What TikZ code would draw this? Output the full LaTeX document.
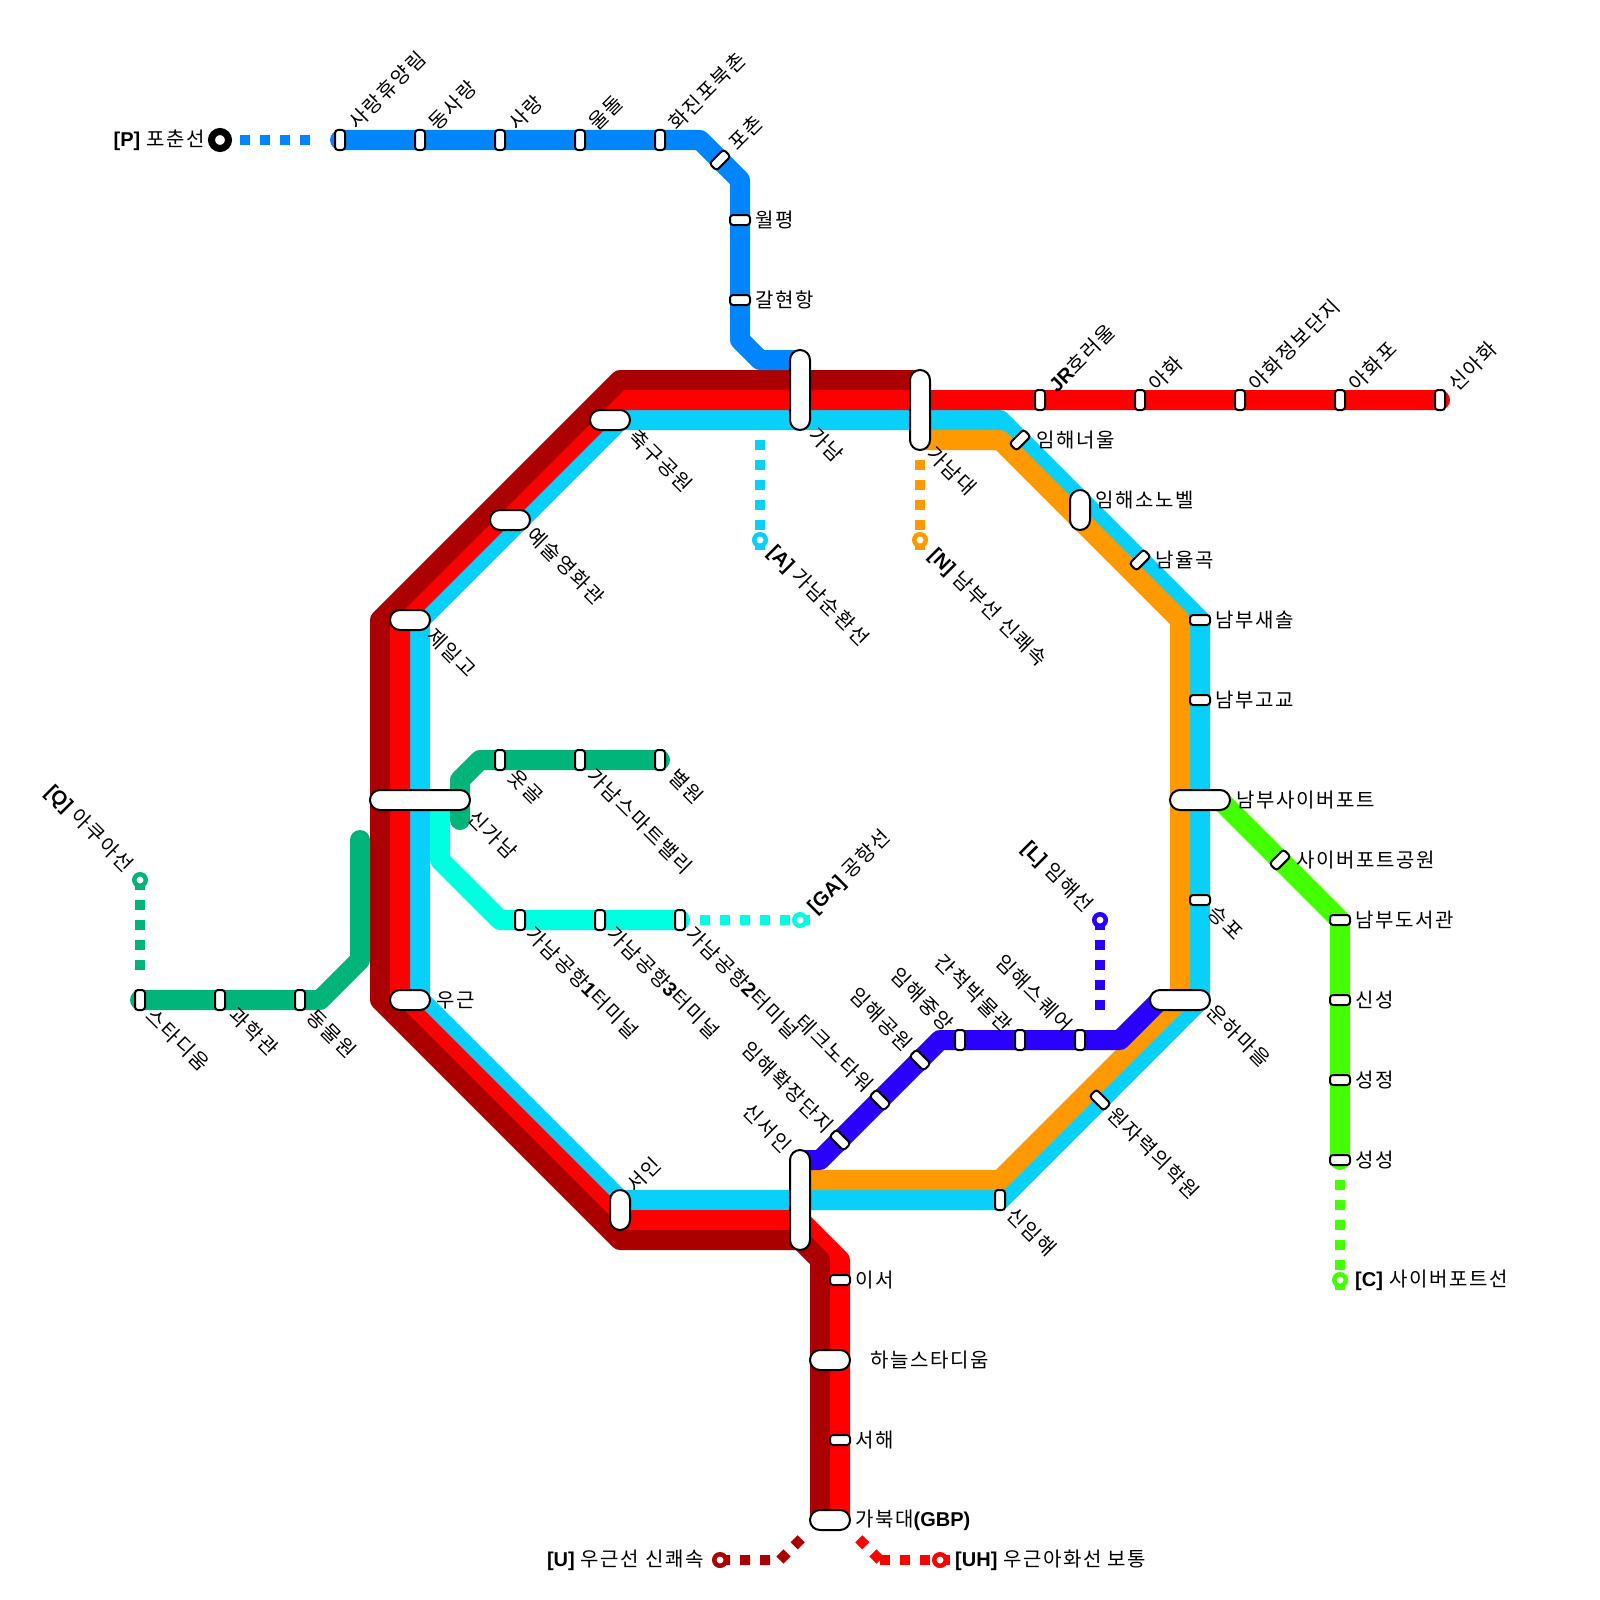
\documentclass[tikz,border=0pt]{standalone}
\usepackage{fontspec}
\setmainfont{Noto Sans CJK KR}[LetterSpace=8]
\newfontfamily\ltnfont{Liberation Sans}
\newcommand{\ltn}[1]{{\ltnfont\bfseries #1}}
\usepackage{tikz}
\usetikzlibrary{backgrounds}
\definecolor{lineU}{HTML}{AA0000}
\definecolor{lineUH}{HTML}{FF0000}
\definecolor{lineA}{HTML}{09CFFB}
\definecolor{lineN}{HTML}{FF9900}
\definecolor{lineP}{HTML}{0085FF}
\definecolor{lineL}{HTML}{2A00FF}
\definecolor{lineGA}{HTML}{00FFE1}
\definecolor{lineQ}{HTML}{00B47A}
\definecolor{lineC}{HTML}{44FF00}
\tikzset{
    track/.style={line width=20pt, line cap=round, line join=round},
    spur/.style={line width=10pt, dash pattern=on 10pt off 10pt},
    stn/.style={rectangle, draw=black, fill=white, line width=2pt, inner sep=0pt, outer sep=0pt},
    stnh/.style={stn, rounded corners=3pt, minimum width=20pt, minimum height=10pt},
    stnv/.style={stn, rounded corners=3pt, minimum width=10pt, minimum height=20pt},
    stnup/.style={stnh, rotate=45},
    stndn/.style={stnh, rotate=-45},
    pill/.style={stn, rounded corners=10pt, minimum height=20pt},
    pillv/.style={stn, rounded corners=10pt, minimum width=20pt},
    endring/.style={circle, fill=white, line width=4.5pt, minimum size=11.5pt, inner sep=0pt, outer sep=0pt},
    bigring/.style={circle, draw=black, fill=white, line width=7pt, minimum size=17pt, inner sep=0pt, outer sep=0pt},
    lbl/.style={inner sep=0pt, font=\fontsize{20}{24}\selectfont},
    lblr/.style={lbl, anchor=west},
    lbll/.style={lbl, anchor=east},
    lblu/.style={lbl, anchor=west, rotate=45},
    lbld/.style={lbl, anchor=west, rotate=-45},
    lbla/.style={lbl, anchor=east, rotate=-45}
}
\begin{document}
\begin{tikzpicture}[x=1pt, y=-1pt]
  \useasboundingbox (0,0) rectangle (1600,1600);
% line P
  \node[stnv] (saranghy) at (340,140) {};
  \node[stnv] (dongsa) at (420,140) {};
  \node[stnv] (sarang) at (500,140) {};
  \node[stnv] (uldol) at (580,140) {};
  \node[stnv] (hwajin) at (660,140) {};
  \node[stnup] (pochon) at (720,160) {};
  \node[stnh] (wolpyeong) at (740,220) {};
  \node[stnh] (galhyeon) at (740,300) {};
% main loop
  \node[pillv, minimum height=80pt] (ganam) at (800,390) {};
  \node[pillv, minimum height=80pt] (ganamdae) at (920,410) {};
  \node[pill, minimum width=40pt] (chukgu) at (610,420) {};
  \node[pill, minimum width=40pt] (yesul) at (510,520) {};
  \node[pill, minimum width=40pt] (jeil) at (410,620) {};
  \node[pill, minimum width=100pt] (singanam) at (420,800) {};
  \node[pill, minimum width=40pt] (ugeun) at (410,1000) {};
  \node[pillv, minimum height=40pt] (seoin) at (620,1210) {};
  \node[pillv, minimum height=100pt] (sinseoin) at (800,1200) {};
  \node[stnv] (sinimhae) at (1000,1200) {};
  \node[stndn] (wonja) at (1100,1100) {};
  \node[pill, minimum width=60pt] (unha) at (1180,1000) {};
  \node[stnh] (seungpo) at (1200,900) {};
  \node[pill, minimum width=60pt] (saiber) at (1200,800) {};
  \node[stnh] (gogyo) at (1200,700) {};
  \node[stnh] (saesol) at (1200,620) {};
  \node[stnup] (namyul) at (1140,560) {};
  \node[pillv, minimum height=40pt] (sonobel) at (1080,510) {};
  \node[stnup] (neoul) at (1020,440) {};
% line UH east
  \node[stnv] (jr) at (1040,400) {};
  \node[stnv] (ahwa) at (1140,400) {};
  \node[stnv] (jeongbo) at (1240,400) {};
  \node[stnv] (ahwapo) at (1340,400) {};
  \node[stnv] (sinahwa) at (1440,400) {};
% line U south
  \node[stnh] (iseo) at (840,1280) {};
  \node[pill, minimum width=40pt] (haneul) at (830,1360) {};
  \node[stnh] (seohae) at (840,1440) {};
  \node[pill, minimum width=40pt] (gabuk) at (830,1520) {};
% line Q
  \node[stnv] (otgol) at (500,760) {};
  \node[stnv] (smart) at (580,760) {};
  \node[stnv] (byeol) at (660,760) {};
  \node[stnv] (stadium) at (140,1000) {};
  \node[stnv] (gwahak) at (220,1000) {};
  \node[stnv] (dongmul) at (300,1000) {};
% line GA
  \node[stnv] (term1) at (520,920) {};
  \node[stnv] (term3) at (600,920) {};
  \node[stnv] (term2) at (680,920) {};
% line L
  \node[stndn] (hwakjang) at (840,1140) {};
  \node[stndn] (tekno) at (880,1100) {};
  \node[stndn] (gongwon) at (920,1060) {};
  \node[stnv] (jungang) at (960,1040) {};
  \node[stnv] (ganchuk) at (1020,1040) {};
  \node[stnv] (square) at (1080,1040) {};
% line C
  \node[stnup] (cyberpark) at (1280,860) {};
  \node[stnh] (doseo) at (1340,920) {};
  \node[stnh] (sinseong) at (1340,1000) {};
  \node[stnh] (seongjeong) at (1340,1080) {};
  \node[stnh] (seongseong) at (1340,1160) {};
% line ends
  \node[bigring] (endP) at (220,140) {};
  \node[endring, draw=lineA] (endA) at (760,540) {};
  \node[endring, draw=lineN] (endN) at (920,540) {};
  \node[endring, draw=lineGA] (endGA) at (800,920) {};
  \node[endring, draw=lineL] (endL) at (1100,920) {};
  \node[endring, draw=lineQ] (endQ) at (140,880) {};
  \node[endring, draw=lineC] (endC) at (1340,1280) {};
  \node[endring, draw=lineU] (endU) at (720,1560) {};
  \node[endring, draw=lineUH] (endUH) at (940,1560) {};
% bends and free ends
  \coordinate (p1) at (700,140);
  \coordinate (p2) at (740,180);
  \coordinate (p3) at (740,340);
  \coordinate (p4) at (760,360);
  \coordinate (p5) at (800,360);
  \coordinate (a1) at (620,420);
  \coordinate (a2) at (1000,420);
  \coordinate (a3) at (1200,620);
  \coordinate (a4) at (1200,1000);
  \coordinate (a5) at (1000,1200);
  \coordinate (a6) at (620,1200);
  \coordinate (a7) at (420,1000);
  \coordinate (a8) at (420,620);
  \coordinate (uh1) at (620,400);
  \coordinate (uh2) at (400,620);
  \coordinate (uh3) at (400,1000);
  \coordinate (uh4) at (620,1220);
  \coordinate (uh5) at (800,1220);
  \coordinate (uh6) at (840,1260);
  \coordinate (uh7) at (840,1520);
  \coordinate (u0) at (920,380);
  \coordinate (u1) at (620,380);
  \coordinate (u2) at (380,620);
  \coordinate (u3) at (380,1000);
  \coordinate (u4) at (620,1240);
  \coordinate (u5) at (800,1240);
  \coordinate (u6) at (820,1260);
  \coordinate (u7) at (820,1520);
  \coordinate (n0) at (920,440);
  \coordinate (n1) at (1000,440);
  \coordinate (n2) at (1180,620);
  \coordinate (n3) at (1180,1000);
  \coordinate (n4) at (1000,1180);
  \coordinate (n5) at (800,1180);
  \coordinate (l0) at (800,1160);
  \coordinate (l1) at (820,1160);
  \coordinate (l2) at (940,1040);
  \coordinate (l3) at (1120,1040);
  \coordinate (l4) at (1160,1000);
  \coordinate (ga0) at (440,800);
  \coordinate (ga1) at (440,860);
  \coordinate (ga2) at (500,920);
  \coordinate (q1) at (320,1000);
  \coordinate (q2) at (360,960);
  \coordinate (q3) at (360,840);
  \coordinate (q4) at (460,820);
  \coordinate (q5) at (460,780);
  \coordinate (q6) at (480,760);
  \coordinate (c0) at (1220,800);
  \coordinate (c1) at (1340,920);
  \coordinate (spP) at (310,140);
  \coordinate (spA) at (760,440);
  \coordinate (spN) at (920,460);
  \coordinate (spGA) at (700,920);
  \coordinate (spL) at (1100,1010);
  \coordinate (spQ) at (140,970);
  \coordinate (spC) at (1340,1180);
  \coordinate (spU1) at (780,1560);
  \coordinate (spU2) at (808,1532);
  \coordinate (spH1) at (880,1560);
  \coordinate (spH2) at (858,1538);
% lines
  \begin{scope}[on background layer]
    \draw[track, lineA] (a1) -- (a2) -- (a3) -- (a4) -- (a5) -- (a6) -- (a7) -- (a8) -- cycle;
    \draw[track, lineN] (n0) -- (n1) -- (n2) -- (n3) -- (n4) -- (n5);
    \draw[track, lineUH] (sinahwa.center) -- (uh1) -- (uh2) -- (uh3) -- (uh4) -- (uh5) -- (uh6) -- (uh7);
    \draw[track, lineU] (u0) -- (u1) -- (u2) -- (u3) -- (u4) -- (u5) -- (u6) -- (u7);
    \draw[track, lineP] (saranghy.center) -- (p1) -- (p2) -- (p3) -- (p4) -- (p5);
    \draw[track, lineL] (l0) -- (l1) -- (l2) -- (l3) -- (l4);
    \draw[track, lineGA] (ga0) -- (ga1) -- (ga2) -- (term2.center);
    \draw[track, lineQ] (stadium.center) -- (q1) -- (q2) -- (q3);
    \draw[track, lineQ] (q4) -- (q5) -- (q6) -- (byeol.center);
    \draw[track, lineC] (c0) -- (c1) -- (seongseong.center);
    \draw[spur, lineP] (endP.center) -- (spP);
    \draw[spur, lineA] (spA) -- (760,550);
    \draw[spur, lineN] (spN) -- (920,550);
    \draw[spur, lineGA] (spGA) -- (810,920);
    \draw[spur, lineL] (endL.center) -- (spL);
    \draw[spur, lineQ] (endQ.center) -- (spQ);
    \draw[spur, lineC] (spC) -- (1340,1290);
    \draw[spur, lineU] (endU.center) -- (spU1) -- (spU2);
    \draw[spur, lineUH] (spH1) -- (950,1560);
    \draw[spur, lineUH] (spH1) -- (spH2);
  \end{scope}
% labels
  \node[lbll] (tP) at (205,140) {\ltn{[P]} 포춘선};
  \node[lblu] (t1) at (352,125) {사랑휴양림};
  \node[lblu] (t2) at (432,126) {동사랑};
  \node[lblu] (t3) at (512,126) {사랑};
  \node[lblu] (t4) at (592,126) {울돌};
  \node[lblu] (t5) at (672,126) {화진포북촌};
  \node[lblu] (t6) at (732,146) {포촌};
  \node[lblr] (t7) at (755,220) {월평};
  \node[lblr] (t8) at (755,300) {갈현항};
  \node[lblu] (t9) at (1052,388) {\ltn{JR}호러울};
  \node[lblu] (t10) at (1152,387) {아화};
  \node[lblu] (t11) at (1252,387) {아화정보단지};
  \node[lblu] (t12) at (1352,387) {아화포};
  \node[lblu] (t13) at (1452,387) {신아화};
  \node[lbld] (t14) at (633,433) {축구공원};
  \node[lbld] (t15) at (531,531) {예술영화관};
  \node[lbld] (t16) at (431,632) {제일고};
  \node[lbld] (t17) at (813,431) {가남};
  \node[lbld] (t18) at (931,450) {가남대};
  \node[lbld] (tA) at (771,549) {\ltn{[A]} 가남순환선};
  \node[lbld] (tN) at (932,552) {\ltn{[N]} 남부선 신쾌속};
  \node[lblr] (t19) at (1036,440) {임해너울};
  \node[lblr] (t20) at (1095,500) {임해소노벨};
  \node[lblr] (t21) at (1155,560) {남율곡};
  \node[lblr] (t22) at (1215,620) {남부새솔};
  \node[lblr] (t23) at (1215,700) {남부고교};
  \node[lblr] (t24) at (1236,800) {남부사이버포트};
  \node[lblr] (t25) at (1296,860) {사이버포트공원};
  \node[lblr] (t26) at (1355,920) {남부도서관};
  \node[lblr] (t27) at (1355,1000) {신성};
  \node[lblr] (t28) at (1355,1080) {성정};
  \node[lblr] (t29) at (1355,1160) {성성};
  \node[lblr] (tC) at (1355,1280) {\ltn{[C]} 사이버포트선};
  \node[lbld] (t30) at (1212,909) {승포};
  \node[lbld] (t31) at (1211,1008) {운하마을};
  \node[lbld] (t32) at (1112,1111) {원자력의학원};
  \node[lbld] (t33) at (1011,1211) {신임해};
  \node[lblu] (t34) at (630,1188) {서인};
  \node[lblr] (t35) at (436,1000) {우근};
  \node[lbld] (t36) at (512,773) {옷골};
  \node[lbld] (t37) at (591,772) {가남스마트밸리};
  \node[lbld] (t38) at (673,773) {별원};
  \node[lbld] (t39) at (472,814) {신가남};
  \node[lbld] (t40) at (530,930) {가남공항\ltn{1}터미널};
  \node[lbld] (t41) at (611,930) {가남공항\ltn{3}터미널};
  \node[lbld] (t42) at (690,930) {가남공항\ltn{2}터미널};
  \node[lblu] (tGA) at (811,910) {\ltn{[GA]} 공항선};
  \node[lbla] (tL) at (1089,909) {\ltn{[L]} 임해선};
  \node[lbla] (tQ) at (129,869) {\ltn{[Q]} 아쿠아선};
  \node[lbld] (t43) at (150,1012) {스타디움};
  \node[lbld] (t44) at (233,1011) {과학관};
  \node[lbld] (t45) at (311,1013) {동물원};
  \node[lbla] (t46) at (788,1149) {신서인};
  \node[lbla] (t47) at (830,1129) {임해확장단지};
  \node[lbla] (t48) at (870,1088) {테크노타워};
  \node[lbla] (t49) at (909,1047) {임해공원};
  \node[lbla] (t50) at (950,1027) {임해중앙};
  \node[lbla] (t51) at (1009,1028) {간척박물관};
  \node[lbla] (t52) at (1069,1028) {임해스퀘어};
  \node[lblr] (t53) at (855,1280) {이서};
  \node[lblr] (t54) at (870,1360) {하늘스타디움};
  \node[lblr] (t55) at (855,1440) {서해};
  \node[lblr] (t56) at (855,1520) {가북대\ltn{(GBP)}};
  \node[lbll] (tU) at (704,1560) {\ltn{[U]} 우근선 신쾌속};
  \node[lblr] (tUH) at (955,1560) {\ltn{[UH]} 우근아화선 보통};
\end{tikzpicture}
\end{document}
